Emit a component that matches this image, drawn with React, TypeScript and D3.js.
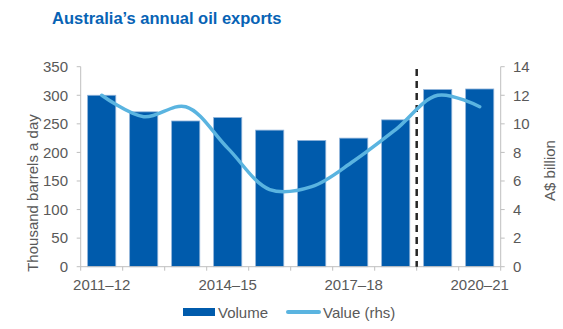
import React from "react";
import * as d3 from "d3";

const categories = ["2011–12","2012–13","2013–14","2014–15","2015–16","2016–17","2017–18","2018–19","2019–20","2020–21"];
const xTickLabels = ["2011–12","2014–15","2017–18","2020–21"];
const volume = [300, 271, 255, 261, 239, 221, 225, 257, 310, 311];
const value = [12.0, 10.5, 11.2, 8.3, 5.4, 5.6, 7.4, 9.6, 12.0, 11.2];
const leftTicks = [0, 50, 100, 150, 200, 250, 300, 350];
const rightTicks = [0, 2, 4, 6, 8, 10, 12, 14];

const W = 563, H = 329;
const L = 80.7, R = 500.7, T = 66.7, B = 266.7;
const font = "'Liberation Sans', Arial, sans-serif";
const barColor = "#005BAC";
const lineColor = "#5AB4E0";
const axisColor = "#BFBFBF";
const textColor = "#595959";
const fs = 15;

export default function App() {
  const x = d3.scaleBand<string>().domain(categories).range([L, R]).paddingInner(0.33).paddingOuter(0.165);
  const xb = d3.scaleLinear().domain([0, categories.length]).range([L, R]);
  const yL = d3.scaleLinear().domain([0, 350]).range([B, T]);
  const yR = d3.scaleLinear().domain([0, 14]).range([B, T]);
  const cx = (c: string) => (x(c) as number) + x.bandwidth() / 2;
  const line = d3.line<number>()
    .x((_, i) => cx(categories[i]))
    .y((d) => yR(d))
    .curve(d3.curveCatmullRom.alpha(0.5));
  const dashX = xb(8);

  return (
    <svg width={W} height={H} style={{ position: "absolute", left: 0, top: 0, fontFamily: font }}>
      <text x={52} y={24} fontSize={16.5} fontWeight="bold" fill="#0763B5">Australia’s annual oil exports</text>

      {categories.map((c, i) => (
        <rect key={c} x={x(c)} y={yL(volume[i])} width={x.bandwidth()} height={B - yL(volume[i])}
          fill={barColor} stroke="#8FB3DA" strokeWidth={0.8} />
      ))}

      {/* left axis */}
      <line x1={L} x2={L} y1={T} y2={B} stroke={axisColor} strokeWidth={1} />
      {leftTicks.map((t) => (
        <g key={t}>
          <line x1={L - 4} x2={L} y1={yL(t)} y2={yL(t)} stroke={axisColor} />
          <text x={68} y={yL(t)} dy="0.35em" textAnchor="end" fontSize={fs} fill={textColor}>{t}</text>
        </g>
      ))}
      <text transform={`translate(38,193) rotate(-90)`} textAnchor="middle" fontSize={fs} fill={textColor}>Thousand barrels a day</text>

      {/* right axis */}
      <line x1={R} x2={R} y1={T} y2={B} stroke={axisColor} strokeWidth={1} />
      {rightTicks.map((t) => (
        <g key={t}>
          <line x1={R} x2={R + 4} y1={yR(t)} y2={yR(t)} stroke={axisColor} />
          <text x={513} y={yR(t)} dy="0.35em" textAnchor="start" fontSize={fs} fill={textColor}>{t}</text>
        </g>
      ))}
      <text transform={`translate(555,170.5) rotate(-90)`} textAnchor="middle" fontSize={fs} fill={textColor}>A$ billion</text>

      {/* x axis */}
      <line x1={L} x2={R} y1={B} y2={B} stroke={axisColor} strokeWidth={1} />
      {d3.range(categories.length + 1).map((i) => (
        <line key={i} x1={xb(i)} x2={xb(i)} y1={B} y2={B + 4} stroke={axisColor} />
      ))}
      {xTickLabels.map((lab) => (
        <text key={lab} x={cx(lab)} y={290} textAnchor="middle" fontSize={fs} fill={textColor}>{lab}</text>
      ))}

      {/* dashed divider */}
      <line x1={dashX} x2={dashX} y1={69} y2={B} stroke="#262626" strokeWidth={2.5} strokeDasharray="7,5" />

      {/* value line */}
      <path d={line(value) as string} fill="none" stroke={lineColor} strokeWidth={3.5} strokeLinecap="round" />

      {/* legend */}
      <rect x={183} y={308} width={32} height={8} fill={barColor} />
      <text x={218} y={317.5} fontSize={fs} fill={textColor}>Volume</text>
      <line x1={288} x2={319} y1={312} y2={312} stroke={lineColor} strokeWidth={4} strokeLinecap="round" />
      <text x={323} y={317.5} fontSize={fs} fill={textColor}>Value (rhs)</text>
    </svg>
  );
}
